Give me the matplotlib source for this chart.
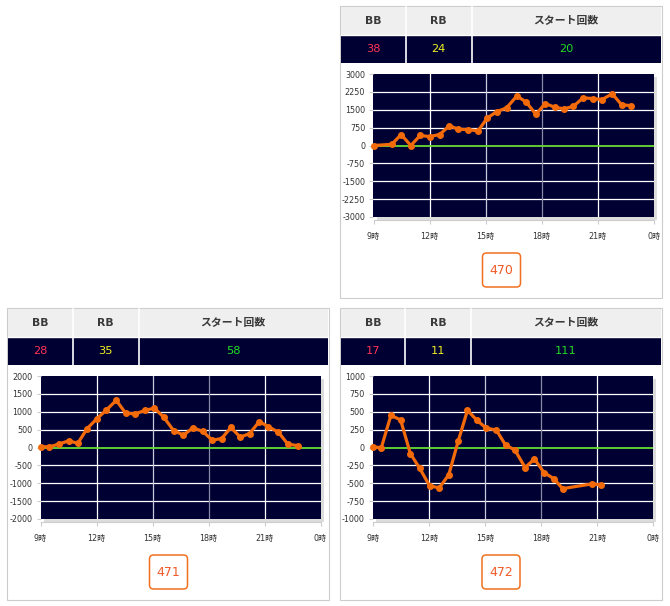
import matplotlib.pyplot as plt
from matplotlib.patches import Rectangle, FancyBboxPatch

plt.rcParams['font.family'] = ['DejaVu Sans', 'Noto Sans CJK JP']

W, H = 670, 606

# === DATA ===
MACHINE_IDS = ["470", "471", "472"]
BB_COUNTS = [38, 28, 17]
RB_COUNTS = [24, 35, 11]
START_COUNTS = [20, 58, 111]
HEADERS = ["BB", "RB", "スタート回数"]

HOUR_TICKS = [9, 12, 15, 18, 21, 24]
HOUR_LABELS = ["9時", "12時", "15時", "18時", "21時", "0時"]

hours_470 = [9.0, 9.98, 10.48, 11.0, 11.5, 12.0, 12.54, 13.07, 13.55, 14.07,
             14.6, 15.09, 15.6, 16.13, 16.68, 17.18, 17.7, 18.2, 18.73, 19.2,
             19.7, 20.23, 20.75, 21.25, 21.79, 22.29, 22.82]
diff_470 = [0, 50, 460, 0, 420, 375, 460, 830, 680, 670,
            610, 1150, 1420, 1580, 2080, 1820, 1310, 1760, 1600, 1540,
            1640, 2000, 1970, 1930, 2170, 1710, 1670]

hours_471 = [9.03, 9.48, 9.98, 10.5, 11.0, 11.5, 12.03, 12.53, 13.06, 13.56,
             14.08, 14.6, 15.1, 15.6, 16.13, 16.66, 17.16, 17.68, 18.2, 18.7,
             19.2, 19.7, 20.2, 20.72, 21.2, 21.74, 22.25, 22.8]
diff_471 = [20, 20, 95, 185, 120, 530, 810, 1050, 1320, 960,
            940, 1040, 1100, 850, 475, 345, 550, 455, 205, 250,
            560, 290, 390, 725, 585, 430, 95, 50]

hours_472 = [9.0, 9.45, 9.96, 10.48, 11.0, 11.5, 12.03, 12.55, 13.06, 13.56,
             14.06, 14.57, 15.07, 15.6, 16.1, 16.6, 17.15, 17.65, 18.16, 18.68,
             19.16, 20.71, 21.2]
diff_472 = [5, 0, 450, 385, -85, -290, -535, -565, -380, 85,
            520, 380, 270, 245, 35, -35, -280, -160, -350, -435,
            -575, -510, -520]

Y_LIMITS = [3000, 2000, 1000]
Y_STEPS = [750, 500, 250]

SERIES = [(hours_470, diff_470), (hours_471, diff_471), (hours_472, diff_472)]

# panel boxes in pixels (left, top)
BOXES = [(340, 6), (7, 308), (339.5, 308)]
BOX_W, BOX_H = 322, 292

NAVY = "#000033"
ORANGE = "#f26a0a"
VALUE_COLORS = ["#ff3355", "#f0f020", "#22dd22"]


def ax_rect(x0, y0, x1, y1):
    return [x0 / W, 1 - y1 / H, (x1 - x0) / W, (y1 - y0) / H]


fig = plt.figure(figsize=(W / 100, H / 100), dpi=100)
bg = fig.add_axes([0, 0, 1, 1])
bg.set_xlim(0, W)
bg.set_ylim(H, 0)
bg.axis("off")

for i, (bx0, by0) in enumerate(BOXES):
    bx1, by1 = bx0 + BOX_W, by0 + BOX_H
    bg.add_patch(Rectangle((bx0, by0), BOX_W, BOX_H, fc="white", ec="#cccccc", lw=0.8))

    # === TABLE ===
    top = by0 + 1
    mid = top + 28
    bot = mid + 28
    c1, c2 = bx0 + 65.5, bx0 + 131.5
    bg.add_patch(Rectangle((bx0 + 1, top), BOX_W - 2, 28, fc="#efefef", ec="none"))
    bg.add_patch(Rectangle((bx0 + 1, mid), BOX_W - 2, 28, fc=NAVY, ec="none"))
    for cx in (c1, c2):
        bg.plot([cx, cx], [top, bot], color="white", lw=1.2)
    bg.plot([bx0 + 1, bx1 - 1], [mid, mid], color="white", lw=1)

    centers = [(bx0 + 1 + c1) / 2, (c1 + c2) / 2, (c2 + bx1 - 1) / 2]
    values = [BB_COUNTS[i], RB_COUNTS[i], START_COUNTS[i]]
    for cx, head, val, col in zip(centers, HEADERS, values, VALUE_COLORS):
        bg.text(cx, top + 14, head, ha="center", va="center", fontsize=7.8,
                fontweight="bold", color="#3a3a3a")
        bg.text(cx, mid + 14.5, str(val), ha="center", va="center", fontsize=8.2,
                color=col)

    # === CHART ===
    px0 = bx0 + 33.5
    px1 = px0 + 280
    py0 = bot + 11
    py1 = py0 + 143
    bg.add_patch(Rectangle((px0 + 3, py0 + 3), px1 - px0, py1 - py0, fc="#dcdcdc", ec="none"))

    ax = fig.add_axes(ax_rect(px0, py0, px1, py1))
    ax.set_facecolor(NAVY)
    ymax, step = Y_LIMITS[i], Y_STEPS[i]
    yticks = list(range(-ymax, ymax + 1, step))
    ax.set_xlim(9, 24)
    ax.set_ylim(-ymax, ymax)

    for y in yticks[1:-1]:
        if y != 0:
            ax.axhline(y, color="white", lw=0.9, zorder=1)
    for x, col in zip([12, 15, 18, 21], ["white", "#c8c8dc", "#8a8aa4", "white"]):
        ax.axvline(x, color=col, lw=0.9, zorder=1)
    ax.axhline(0, color="#66dd33", lw=1.3, zorder=2)

    hrs, vals = SERIES[i]
    ax.plot(hrs, vals, color=ORANGE, lw=2.3, marker="o", ms=4, zorder=3,
            solid_joinstyle="round", clip_on=False)

    ax.set_xticks(HOUR_TICKS)
    ax.set_xticklabels(HOUR_LABELS)
    ax.set_yticks(yticks)
    ax.set_yticklabels([str(y) for y in yticks])
    for side in ["top", "right", "left"]:
        ax.spines[side].set_visible(False)
    ax.spines["bottom"].set_position(("outward", 2.5))
    ax.spines["bottom"].set_color("#cccccc")
    ax.tick_params(axis="x", length=3, width=0.8, color="#cccccc", pad=5,
                   labelsize=5.8, labelcolor="#333333")
    ax.tick_params(axis="y", length=3, width=0.8, color="#cccccc", pad=3,
                   labelsize=5.8, labelcolor="#333333")

    # === BADGE ===
    bcx, bcy = px0 + 128, py1 + 53
    bg.add_patch(FancyBboxPatch((bcx - 19, bcy - 17), 38, 34,
                                boxstyle="round,pad=0,rounding_size=4",
                                fc="white", ec="#f07020", lw=1.1))
    bg.text(bcx, bcy, MACHINE_IDS[i], ha="center", va="center", fontsize=9,
            color="#f05a28")

fig.savefig("out.png", dpi=100)
